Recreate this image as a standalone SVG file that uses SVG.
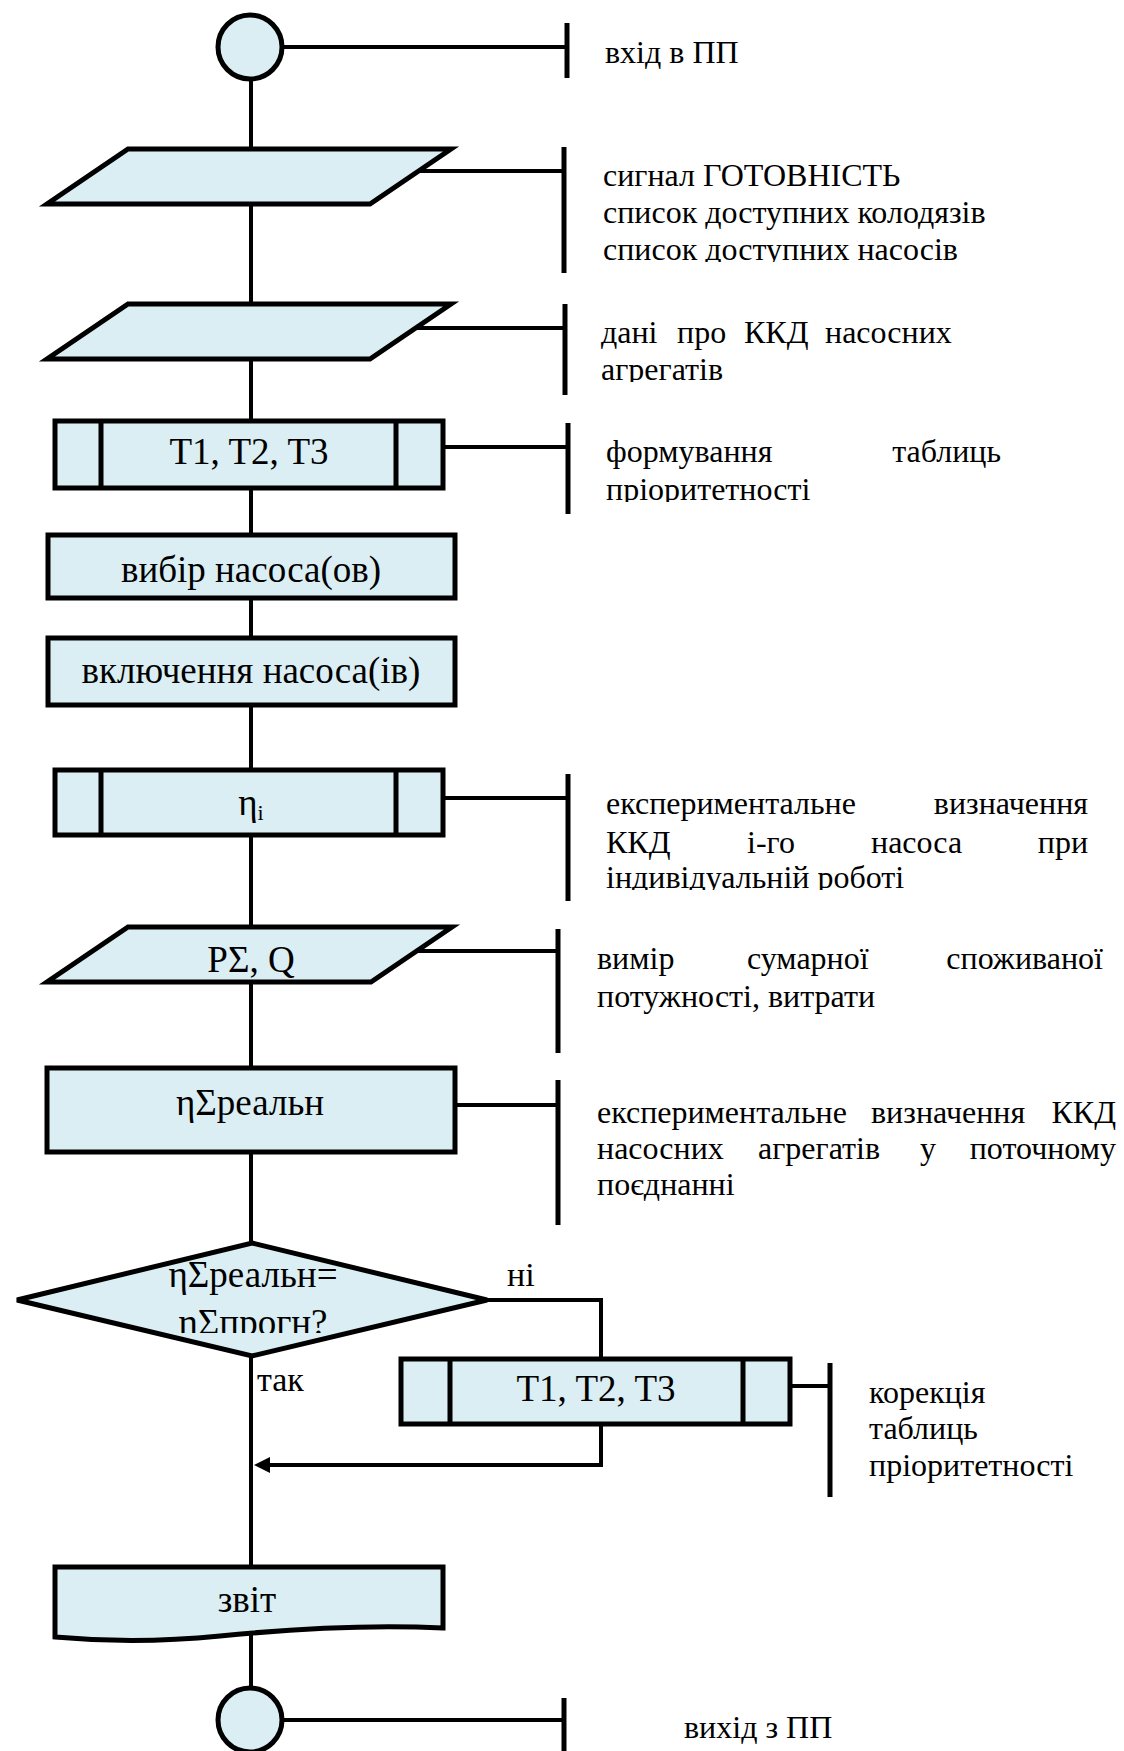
<svg xmlns="http://www.w3.org/2000/svg" width="1124" height="1751" viewBox="0 0 1124 1751">
  <style>
    .shape { fill: #DAEEF3; stroke: #000; stroke-width: 5; stroke-linejoin: miter; }
    .inner { stroke: #000; stroke-width: 5; fill: none; }
    .flow { stroke: #000; stroke-width: 4; fill: none; }
    .tick { stroke: #000; stroke-width: 5; fill: none; }
    .node-text { font-family: "Liberation Serif", "Times New Roman", serif; font-size: 37px; fill: #000; text-anchor: middle; }
    .note { font-family: "Liberation Serif", "Times New Roman", serif; font-size: 32px; fill: #000; }
    .label { font-family: "Liberation Serif", "Times New Roman", serif; font-size: 34px; fill: #000; }
    .end { text-anchor: end; }
  </style>
  <defs>
    <clipPath id="clip-a1"><rect x="590" y="140" width="500" height="122"/></clipPath>
    <clipPath id="clip-a2"><rect x="590" y="300" width="500" height="82"/></clipPath>
    <clipPath id="clip-a3"><rect x="590" y="420" width="500" height="82"/></clipPath>
    <clipPath id="clip-a4"><rect x="590" y="770" width="520" height="120"/></clipPath>
    <clipPath id="clip-dec"><rect x="150" y="1250" width="210" height="83"/></clipPath>
  </defs>

  <!-- connectors -->
  <g id="connectors">
    <line class="flow" x1="251" y1="79" x2="251" y2="1690"/>
    <!-- "no" branch and return -->
    <polyline class="flow" points="487,1300 601,1300 601,1359"/>
    <polyline class="flow" points="601,1424 601,1465 268,1465"/>
    <polygon points="254,1465 270,1457 270,1473" fill="#000"/>
    <!-- comment brackets -->
    <line class="flow" x1="282" y1="47" x2="567" y2="47"/>
    <line class="tick" x1="567" y1="23" x2="567" y2="78"/>
    <line class="flow" x1="418" y1="171" x2="564" y2="171"/>
    <line class="tick" x1="564" y1="147" x2="564" y2="273"/>
    <line class="flow" x1="416" y1="328" x2="565" y2="328"/>
    <line class="tick" x1="565" y1="304" x2="565" y2="395"/>
    <line class="flow" x1="443" y1="447" x2="568" y2="447"/>
    <line class="tick" x1="568" y1="423" x2="568" y2="514"/>
    <line class="flow" x1="443" y1="798" x2="568" y2="798"/>
    <line class="tick" x1="568" y1="774" x2="568" y2="901"/>
    <line class="flow" x1="415" y1="951" x2="558" y2="951"/>
    <line class="tick" x1="558" y1="929" x2="558" y2="1053"/>
    <line class="flow" x1="455" y1="1105" x2="558" y2="1105"/>
    <line class="tick" x1="558" y1="1080" x2="558" y2="1225"/>
    <line class="flow" x1="790" y1="1386" x2="830" y2="1386"/>
    <line class="tick" x1="830" y1="1363" x2="830" y2="1497"/>
    <line class="flow" x1="282" y1="1720" x2="564" y2="1720"/>
    <line class="tick" x1="564" y1="1698" x2="564" y2="1751"/>
  </g>

  <!-- entry terminator -->
  <g id="start">
    <ellipse class="shape" cx="250" cy="47" rx="32" ry="32"/>
    <text class="note" x="605" y="63">вхід в ПП</text>
  </g>

  <!-- input: readiness signal and lists -->
  <g id="input-lists">
    <polygon class="shape" points="128,149 451,149 370,204 47,204"/>
    <g clip-path="url(#clip-a1)">
      <text class="note" x="603" y="186">сигнал ГОТОВНІСТЬ</text>
      <text class="note" x="603" y="223">список доступних колодязів</text>
      <text class="note" x="603" y="260">список доступних насосів</text>
    </g>
  </g>

  <!-- input: efficiency data -->
  <g id="input-efficiency">
    <polygon class="shape" points="128,304 451,304 370,359 47,359"/>
    <g clip-path="url(#clip-a2)">
      <text class="note" y="343"><tspan x="601">дані</tspan><tspan x="677">про</tspan><tspan x="744">ККД</tspan><tspan x="825">насосних</tspan></text>
      <text class="note" x="601" y="380">агрегатів</text>
    </g>
  </g>

  <!-- predefined process: priority tables -->
  <g id="tables-build">
    <rect class="shape" x="55" y="421" width="388" height="67"/>
    <line class="inner" x1="101" y1="421" x2="101" y2="488"/>
    <line class="inner" x1="396" y1="421" x2="396" y2="488"/>
    <text class="node-text" x="249" y="464">T1, T2, T3</text>
    <g clip-path="url(#clip-a3)">
      <text class="note" x="606" y="462">формування</text>
      <text class="note end" x="1001" y="462">таблиць</text>
      <text class="note" x="606" y="500">пріоритетності</text>
    </g>
  </g>

  <g id="pump-select">
    <rect class="shape" x="48" y="535" width="407" height="63"/>
    <text class="node-text" x="251" y="582">вибір насоса(ов)</text>
  </g>

  <g id="pump-start">
    <rect class="shape" x="48" y="638" width="407" height="67"/>
    <text class="node-text" x="251" y="683">включення насоса(ів)</text>
  </g>

  <!-- predefined process: individual efficiency -->
  <g id="eta-i">
    <rect class="shape" x="55" y="770" width="388" height="65"/>
    <line class="inner" x1="101" y1="770" x2="101" y2="835"/>
    <line class="inner" x1="396" y1="770" x2="396" y2="835"/>
    <text class="node-text" x="251" y="815">η<tspan font-size="22" dy="5">i</tspan></text>
    <g clip-path="url(#clip-a4)">
      <text class="note" x="606" y="814">експериментальне</text>
      <text class="note end" x="1088" y="814">визначення</text>
      <text class="note" y="853"><tspan x="606">ККД</tspan><tspan x="747">і-го</tspan><tspan x="871">насоса</tspan></text>
      <text class="note end" x="1088" y="853">при</text>
      <text class="note" x="606" y="888">індивідуальній роботі</text>
    </g>
  </g>

  <!-- input: total power and flow -->
  <g id="power-flow">
    <polygon class="shape" points="128,927 452,927 371,982 47,982"/>
    <text class="node-text" x="251" y="972">PΣ, Q</text>
    <text class="note" y="969"><tspan x="597">вимір</tspan><tspan x="747">сумарної</tspan></text>
    <text class="note end" x="1103" y="969">споживаної</text>
    <text class="note" x="597" y="1007">потужності, витрати</text>
  </g>

  <g id="eta-real">
    <rect class="shape" x="47" y="1068" width="408" height="84"/>
    <text class="node-text" x="250" y="1115">ηΣреальн</text>
    <text class="note" y="1123"><tspan x="597">експериментальне</tspan><tspan x="871">визначення</tspan></text>
    <text class="note end" x="1116" y="1123">ККД</text>
    <text class="note" y="1159"><tspan x="597">насосних</tspan><tspan x="758">агрегатів</tspan><tspan x="920">у</tspan></text>
    <text class="note end" x="1116" y="1159">поточному</text>
    <text class="note" x="597" y="1195">поєднанні</text>
  </g>

  <!-- decision -->
  <g id="compare">
    <polygon class="shape" points="252,1243 487,1300 252,1356 17,1300"/>
    <text class="node-text" x="253" y="1287">ηΣреальн=</text>
    <g clip-path="url(#clip-dec)">
      <text class="node-text" x="253" y="1335">ηΣпрогн?</text>
    </g>
    <text class="label" x="507" y="1286">ні</text>
    <text class="label" x="257" y="1391">так</text>
  </g>

  <!-- predefined process: table correction -->
  <g id="tables-correct">
    <rect class="shape" x="401" y="1359" width="389" height="65"/>
    <line class="inner" x1="450" y1="1359" x2="450" y2="1424"/>
    <line class="inner" x1="743" y1="1359" x2="743" y2="1424"/>
    <text class="node-text" x="596" y="1401">T1, T2, T3</text>
    <text class="note" x="869" y="1403">корекція</text>
    <text class="note" x="869" y="1439">таблиць</text>
    <text class="note" x="869" y="1476">пріоритетності</text>
  </g>

  <!-- document: report -->
  <g id="report">
    <path class="shape" d="M55,1567 H443 V1628 C360,1624 280,1630 220,1636 C170,1641 110,1642 55,1637 Z"/>
    <text class="node-text" x="247" y="1612">звіт</text>
  </g>

  <!-- exit terminator -->
  <g id="finish">
    <ellipse class="shape" cx="250" cy="1720" rx="32" ry="32"/>
    <text class="note" x="684" y="1738">вихід з ПП</text>
  </g>
</svg>
